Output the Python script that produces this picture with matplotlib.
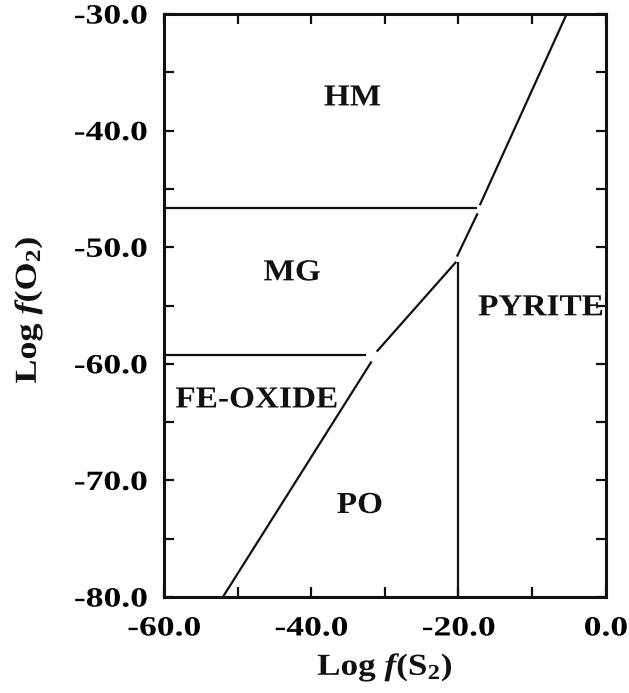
import matplotlib
matplotlib.use("Agg")
import matplotlib.pyplot as plt
from matplotlib.patheffects import AbstractPathEffect
from matplotlib.transforms import Affine2D

# ---- data ----
x_ticks = [-60, -50, -40, -30, -20, -10, 0]
x_tick_labels = ["-60.0", "", "-40.0", "", "-20.0", "", "0.0"]
y_ticks = [-80, -75, -70, -65, -60, -55, -50, -45, -40, -35, -30]
y_tick_labels = ["-80.0", "", "-70.0", "", "-60.0", "", "-50.0", "", "-40.0", "", "-30.0"]

hm_mg_x = [-60, -17.5]
hm_mg_y = [-46.65, -46.65]
mg_fe_x = [-60, -32.5]
mg_fe_y = [-59.25, -59.25]
mg_po_x = [-31.1, -20.3]
mg_po_y = [-58.95, -51.25]
fe_po_x = [-52.0, -31.8]
fe_po_y = [-80.0, -59.8]
po_py_x = [-20.0, -20.0]
po_py_y = [-51.25, -80.0]
py_lo_x = [-20.2, -17.4]
py_lo_y = [-50.8, -47.1]
py_hi_x = [-17.1, -5.3]
py_hi_y = [-46.4, -30.0]

field_names = ["HM", "MG", "PYRITE", "FE-OXIDE", "PO"]
field_x = [-34.4, -42.6, -8.8, -47.4, -33.4]
field_y = [-37.2, -52.2, -55.2, -63.1, -72.15]


class Stretch(AbstractPathEffect):
    def __init__(self, sx, anchor="center"):
        super().__init__()
        self.sx = sx
        self.anchor = anchor

    def draw_path(self, renderer, gc, tpath, affine, rgbFace=None):
        v = tpath.vertices
        if len(v) == 0:
            return
        x0, x1 = v[:, 0].min(), v[:, 0].max()
        a = {"center": (x0 + x1) / 2, "right": x1, "left": x0}[self.anchor]
        pre = Affine2D().translate(-a, 0).scale(self.sx, 1).translate(a, 0)
        renderer.draw_path(gc, tpath, pre + affine, rgbFace)


plt.rcParams["font.family"] = ["Liberation Serif", "DejaVu Serif"]
plt.rcParams["font.weight"] = "bold"
plt.rcParams["mathtext.fontset"] = "custom"
plt.rcParams["mathtext.rm"] = "Liberation Serif:bold"
plt.rcParams["mathtext.it"] = "Liberation Serif:italic:bold"
plt.rcParams["mathtext.bf"] = "Liberation Serif:bold"

fig = plt.figure(figsize=(6.29, 6.93), dpi=100)
ax = fig.add_axes([0.2607, 0.1385, 0.9629 - 0.2607, 0.9798 - 0.1385])
ax.set_xlim(-60, 0)
ax.set_ylim(-80, -30)

lw = 1.6
col = "#111111"
for xs, ys in [(hm_mg_x, hm_mg_y), (mg_fe_x, mg_fe_y), (mg_po_x, mg_po_y),
               (fe_po_x, fe_po_y), (po_py_x, po_py_y), (py_lo_x, py_lo_y),
               (py_hi_x, py_hi_y)]:
    ax.plot(xs, ys, color=col, lw=lw, solid_capstyle="butt")

for name, fx, fy in zip(field_names, field_x, field_y):
    ax.text(fx, fy, name, ha="center", va="center", fontsize=22,
            fontweight="bold", color=col,
            path_effects=[Stretch(1.09, "center")])

for s in ax.spines.values():
    s.set_linewidth(2.2)
    s.set_color(col)

ax.set_xticks(x_ticks)
ax.set_xticklabels(x_tick_labels)
ax.set_yticks(y_ticks)
ax.set_yticklabels(y_tick_labels)
ax.tick_params(axis="both", direction="in", length=7, width=1.6, color=col,
               top=True, right=True, labelsize=20)
ax.tick_params(axis="x", pad=14)
ax.tick_params(axis="y", pad=12)
for lbl in ax.get_xticklabels():
    lbl.set_fontweight("bold")
    lbl.set_path_effects([Stretch(1.28, "center")])
for lbl in ax.get_yticklabels():
    lbl.set_fontweight("bold")
    lbl.set_path_effects([Stretch(1.28, "right")])

fig.text(385 / 629, 1 - 667 / 693, r"Log $f$(S$_2$)", ha="center", va="center",
         fontsize=22, fontweight="bold", color=col,
         path_effects=[Stretch(1.15, "center")])
fig.text(28 / 629, 1 - 310 / 693, r"Log $f$(O$_2$)", ha="center", va="center",
         rotation=90, fontsize=22, fontweight="bold", color=col,
         path_effects=[Stretch(1.18, "center")])

fig.savefig("out.png", dpi=100)
